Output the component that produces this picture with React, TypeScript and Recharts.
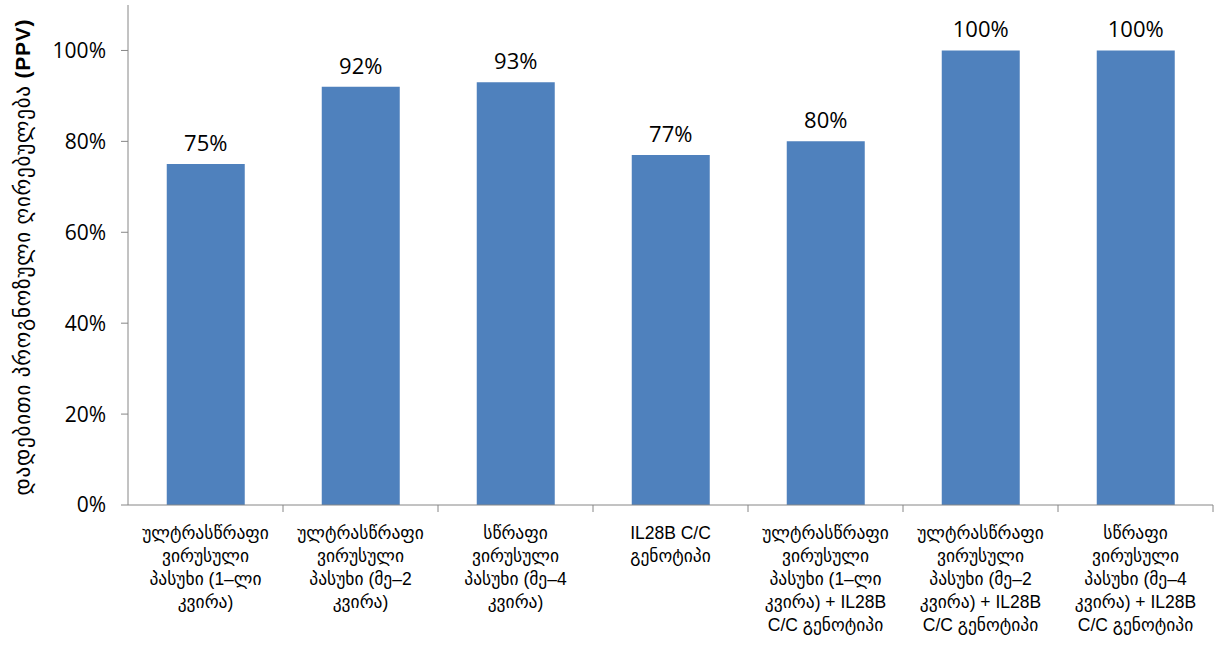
import { Bar, BarChart, LabelList, XAxis, YAxis, Label } from "recharts";

const CATEGORIES = [
  "ულტრასწრაფი\nვირუსული\nპასუხი (1–ლი\nკვირა)",
  "ულტრასწრაფი\nვირუსული\nპასუხი (მე–2\nკვირა)",
  "სწრაფი\nვირუსული\nპასუხი (მე–4\nკვირა)",
  "IL28B C/C\nგენოტიპი",
  "ულტრასწრაფი\nვირუსული\nპასუხი (1–ლი\nკვირა) + IL28B\nC/C გენოტიპი",
  "ულტრასწრაფი\nვირუსული\nპასუხი (მე–2\nკვირა) + IL28B\nC/C გენოტიპი",
  "სწრაფი\nვირუსული\nპასუხი (მე–4\nკვირა) + IL28B\nC/C გენოტიპი",
];
const PPV = [75, 92, 93, 77, 80, 100, 100];
const Y_TICKS = [0, 20, 40, 60, 80, 100];
const Y_TITLE = "დადებითი პროგნოზული ღირებულება";

const data = CATEGORIES.map((name, i) => ({ name, ppv: PPV[i] }));

const W = 1218;
const H = 650;
const LEFT = 128;
const RIGHT = 5;
const BAND = (W - LEFT - RIGHT) / CATEGORIES.length;
const AXIS = "#868686";
const LABEL_FONT = "'Liberation Sans', 'DejaVu Sans', sans-serif";
const NUM_FONT = "'Open Sans', sans-serif";

function CategoryTick(props: any) {
  const { x, y, payload } = props;
  const lines = String(payload.value).split("\n");
  const half = BAND / 2;
  return (
    <g>
      <line x1={x + half} x2={x + half} y1={y - 8} y2={y - 1} stroke={AXIS} />
      <text x={x} y={y + 26} textAnchor="middle" fontSize={17.5} fill="#000" fontFamily={LABEL_FONT}>
        {lines.map((l, i) => (
          <tspan key={i} x={x} dy={i === 0 ? 0 : 23}>
            {l}
          </tspan>
        ))}
      </text>
    </g>
  );
}

export default function App() {
  return (
    <div style={{ position: "absolute", left: 0, top: 0, background: "#fff" }}>
      <BarChart
        width={W}
        height={H}
        data={data}
        margin={{ top: 5, right: RIGHT, bottom: 5, left: 0 }}
        barCategoryGap="25%"
      >
        <XAxis
          dataKey="name"
          interval={0}
          height={140}
          stroke={AXIS}
          tickLine={false}
          tickSize={8}
          tickMargin={0}
          tick={<CategoryTick />}
        />
        <YAxis
          domain={[0, 110]}
          ticks={Y_TICKS}
          width={LEFT}
          stroke={AXIS}
          tickSize={7}
          tickMargin={15}
          tickFormatter={(v) => `${v}%`}
          tick={{ fill: "#000", fontSize: 21, fontFamily: NUM_FONT }}
        >
          <Label
            content={() => (
              <text
                x={22}
                y={257}
                transform="rotate(-90 22 257)"
                textAnchor="middle"
                dominantBaseline="central"
                fontSize={21}
                letterSpacing={0.8}
                fontFamily={LABEL_FONT}
                fill="#000"
              >
                {Y_TITLE + " "}
                <tspan fontWeight="bold">(PPV)</tspan>
              </text>
            )}
          />
        </YAxis>
        <Bar dataKey="ppv" fill="#4f81bd" isAnimationActive={false}>
          <LabelList
            dataKey="ppv"
            position="top"
            offset={13}
            formatter={(v: any) => `${v}%`}
            style={{ fill: "#000", fontSize: 22, fontFamily: NUM_FONT }}
          />
        </Bar>
      </BarChart>
    </div>
  );
}
